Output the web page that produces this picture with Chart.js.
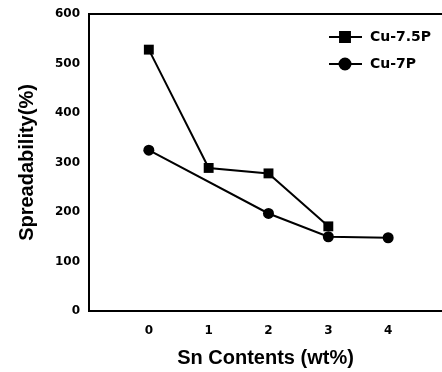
<!DOCTYPE html>
<html>
<head>
<meta charset="utf-8">
<script src="https://cdn.jsdelivr.net/npm/chart.js@4"></script>
<style>
  html, body { margin: 0; padding: 0; background: #fff; overflow: hidden; }
  #wrap { width: 442px; height: 372px; }
</style>
</head>
<body>
<div id="wrap"><canvas id="spreadChart" width="442" height="372"></canvas></div>
<script>
// values
const xTicks = [0, 1, 2, 3, 4];
const yTicks = [0, 100, 200, 300, 400, 500, 600];
const cu75pX = [0, 1, 2, 3];
const cu75pY = [528, 289, 278, 171];
const cu7pX = [0, 2, 3, 4];
const cu7pY = [325, 197, 150, 148];
const seriesNames = ['Cu-7.5P', 'Cu-7P'];

const tickFont = { family: 'DejaVu Sans', weight: 'bold', size: 12 };
const titleFont = { family: 'Liberation Sans', weight: 'bold', size: 20 };

function toPoints(xs, ys) {
  return xs.map((x, i) => ({ x: x, y: ys[i] }));
}

// top frame line + legend with line and marker, like the original
const framePlugin = {
  id: 'frameAndLegend',
  afterDraw(chart) {
    const ctx = chart.ctx;
    const area = chart.chartArea;
    ctx.save();
    ctx.strokeStyle = '#000';
    ctx.lineWidth = 2;
    ctx.beginPath();
    ctx.moveTo(area.left, area.top);
    ctx.lineTo(area.right, area.top);
    ctx.stroke();

    const rows = [
      { y: 37, style: 'rect', r: 7 },
      { y: 64, style: 'circle', r: 5.5 }
    ];
    rows.forEach(function (row, i) {
      ctx.strokeStyle = '#000';
      ctx.lineWidth = 2;
      ctx.beginPath();
      ctx.moveTo(329, row.y);
      ctx.lineTo(362, row.y);
      ctx.stroke();
      ctx.fillStyle = '#000';
      Chart.helpers.drawPoint(ctx, { pointStyle: row.style, radius: row.r, borderWidth: 1 }, 345, row.y);
      ctx.fill();
      ctx.font = 'bold 14px "DejaVu Sans"';
      ctx.textBaseline = 'middle';
      ctx.textAlign = 'left';
      ctx.fillText(seriesNames[i], 370, row.y);
    });
    ctx.restore();
  }
};

new Chart('spreadChart', {
  type: 'line',
  data: {
    datasets: [
      {
        label: seriesNames[0],
        data: toPoints(cu75pX, cu75pY),
        borderColor: '#000',
        backgroundColor: '#000',
        borderWidth: 2,
        pointStyle: 'rect',
        pointRadius: 7,
        pointBorderWidth: 0
      },
      {
        label: seriesNames[1],
        data: toPoints(cu7pX, cu7pY),
        borderColor: '#000',
        backgroundColor: '#000',
        borderWidth: 2,
        pointStyle: 'circle',
        pointRadius: 5.5,
        pointBorderWidth: 0
      }
    ]
  },
  options: {
    responsive: false,
    animation: false,
    layout: { autoPadding: false, padding: { top: 14, right: 0, left: 0, bottom: 0 } },
    plugins: {
      legend: { display: false },
      tooltip: { enabled: false }
    },
    scales: {
      x: {
        type: 'linear',
        min: -1,
        max: 4.9,
        afterBuildTicks(scale) {
          scale.ticks = xTicks.map((v) => ({ value: v }));
        },
        afterFit(scale) {
          scale.height = 61;
          scale.paddingLeft = 0;
          scale.paddingRight = 0;
        },
        grid: { display: false, drawTicks: false },
        border: { display: true, color: '#000', width: 2 },
        ticks: { color: '#000', font: tickFont, padding: 13 },
        title: {
          display: true,
          text: 'Sn Contents (wt%)',
          color: '#000',
          font: titleFont,
          padding: { top: 0, bottom: 2 }
        }
      },
      y: {
        type: 'linear',
        min: 0,
        max: 600,
        afterBuildTicks(scale) {
          scale.ticks = yTicks.map((v) => ({ value: v }));
        },
        afterFit(scale) {
          scale.width = 89;
          scale.paddingTop = 0;
          scale.paddingBottom = 0;
        },
        grid: { display: false, drawTicks: false },
        border: { display: true, color: '#000', width: 2 },
        ticks: { color: '#000', font: tickFont, padding: 9 },
        title: {
          display: true,
          text: 'Spreadability(%)',
          color: '#000',
          font: titleFont,
          padding: { top: 15, bottom: 0 }
        }
      }
    }
  },
  plugins: [framePlugin]
});
</script>
</body>
</html>
